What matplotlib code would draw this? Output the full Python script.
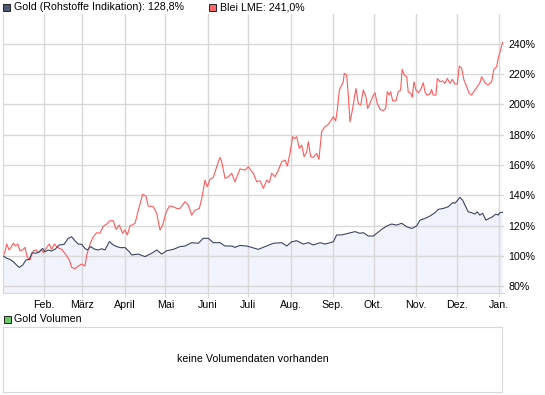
import matplotlib
matplotlib.use("Agg")
import matplotlib.pyplot as plt
from matplotlib.patches import Rectangle
import pandas as pd

plt.rcParams['font.family'] = ['Liberation Sans', 'DejaVu Sans']

# Tage seit 01.01.2009 und Wertentwicklung in %
gold_tage = [0.9, 3.4, 5.8, 8.2, 10.7, 12.6, 15.1, 17.6, 20.0, 22.0, 24.9, 27.3, 29.8, 31.5,
             33.9, 36.4, 38.9, 42.0, 45.5, 48.6, 51.1, 53.6, 56.0, 58.5, 60.9, 62.6, 65.1,
             67.7, 70.7, 73.2, 75.6, 78.8, 81.7, 84.2, 87.1, 90.3, 93.5, 95.2, 100.1, 105.0,
             109.9, 113.6, 117.3, 120.9, 125.8, 130.7, 134.4, 139.3, 144.2, 147.8, 151.5,
             155.2, 160.1, 163.8, 168.7, 171.1, 174.8, 179.7, 183.4, 188.2, 193.2, 199.3,
             205.5, 209.1, 212.8, 216.5, 221.3, 225.0, 228.7, 233.6, 237.3, 241.0, 243.4,
             245.8, 249.5, 254.4, 259.3, 263.0, 265.4, 269.1, 272.8, 275.3, 278.9, 282.6,
             286.3, 289.9, 293.6, 297.3, 301.0, 304.6, 307.1, 310.7, 314.4, 318.1, 320.5,
             324.2, 327.8, 331.1, 332.7, 334.4, 336.4, 338.4, 340.1, 342.5, 345.0, 347.4,
             349.1, 351.1, 353.1, 355.5, 357.9, 360.4, 362.8, 364.5, 365.7, 367.7]
gold_werte = [100.0, 98.5, 97.8, 96.3, 94.0, 92.5, 94.0, 97.4, 97.8, 102.2, 101.8, 102.8, 105.0,
              102.8, 104.0, 103.3, 104.4, 107.3, 107.7, 111.7, 112.7, 110.0, 107.9, 107.7,
              105.0, 104.0, 106.2, 104.6, 104.0, 104.8, 104.0, 109.5, 107.3, 106.2, 105.5,
              105.6, 102.8, 100.7, 101.3, 99.6, 101.8, 104.0, 101.3, 103.5, 104.4, 106.2,
              106.6, 108.8, 108.4, 111.7, 111.7, 108.8, 108.8, 106.6, 106.6, 105.7, 107.0,
              106.6, 105.7, 104.4, 106.2, 108.4, 108.8, 106.6, 109.4, 110.1, 107.9, 108.8,
              107.3, 108.8, 107.9, 108.8, 109.4, 113.9, 113.9, 115.0, 116.1, 115.0, 115.4,
              113.2, 113.2, 115.0, 117.6, 119.8, 121.1, 120.4, 121.6, 119.3, 118.2, 119.8,
              123.7, 124.8, 126.4, 128.6, 130.8, 131.4, 132.5, 135.2, 134.8, 136.5, 138.7,
              136.9, 133.6, 129.2, 128.6, 127.7, 129.2, 127.0, 128.2, 123.7, 124.8, 125.9,
              127.7, 127.0, 128.6, 128.8]

blei_tage = [0.9, 2.1, 3.4, 5.1, 6.5, 8.2, 10.0, 11.5, 13.2, 15.1, 16.8, 18.5, 20.5, 22.9,
             24.9, 26.6, 29.1, 30.3, 32.8, 34.7, 36.4, 38.4, 40.6, 43.8, 47.0, 49.4, 51.1,
             53.6, 56.0, 58.5, 60.9, 62.2, 64.6, 67.0, 69.5, 71.9, 74.4, 76.9, 79.3, 81.7,
             83.7, 86.1, 88.6, 90.3, 92.0, 94.0, 97.7, 100.1, 103.3, 105.7, 107.4, 111.1,
             113.6, 116.0, 118.0, 120.4, 122.9, 125.8, 128.3, 130.7, 134.4, 136.8, 139.3,
             141.7, 144.9, 146.7, 149.1, 150.8, 152.8, 155.2, 157.7, 160.1, 161.4, 163.8,
             166.2, 168.7, 171.1, 174.8, 178.5, 180.9, 184.6, 187.1, 189.5, 192.0, 194.5,
             196.4, 198.1, 200.5, 203.0, 205.5, 207.9, 209.6, 211.5, 213.5, 215.2, 216.5,
             218.4, 220.2, 221.9, 223.9, 225.0, 226.8, 228.7, 231.2, 232.8, 234.8, 237.2,
             239.2, 241.4, 243.4, 245.1, 246.3, 247.8, 249.6, 250.7, 251.4, 253.2, 254.4,
             255.6, 256.9, 258.0, 260.0, 261.7, 263.5, 265.4, 267.4, 268.6, 270.3, 272.8,
             274.0, 275.7, 277.7, 280.1, 281.9, 283.0, 284.5, 285.5, 287.0, 289.4, 291.1,
             292.8, 294.0, 295.5, 297.3, 298.4, 300.2, 301.4, 302.6, 304.1, 305.8, 307.6,
             309.5, 310.7, 312.0, 314.4, 315.6, 316.8, 318.8, 319.8, 321.7, 323.7, 325.4,
             327.1, 329.1, 330.8, 332.8, 334.5, 335.9, 337.7, 339.4, 341.4, 343.3, 345.0,
             347.4, 349.1, 351.1, 352.3, 354.8, 357.2, 359.7, 361.4, 363.4, 364.5, 366.3,
             367.7]
blei_werte = [100.0, 102.8, 107.9, 104.0, 105.7, 108.4, 106.6, 107.9, 103.5, 104.0, 105.7,
              99.1, 97.4, 103.5, 104.0, 102.2, 104.0, 102.2, 105.7, 107.9, 104.4, 107.9,
              105.7, 104.4, 100.7, 97.4, 92.5, 91.6, 93.4, 94.7, 93.4, 100.7, 107.9, 112.7,
              115.4, 115.0, 119.8, 121.1, 123.3, 123.3, 117.6, 120.4, 115.0, 117.2, 113.9,
              119.8, 121.6, 130.3, 140.7, 139.6, 133.0, 132.5, 128.2, 117.2, 120.4, 128.6,
              133.0, 132.5, 131.4, 131.4, 135.8, 133.6, 127.0, 130.3, 131.4, 138.0, 150.1,
              145.7, 150.6, 151.9, 158.9, 165.1, 162.2, 151.2, 152.3, 154.6, 149.0, 157.5,
              156.7, 158.9, 154.6, 149.0, 149.7, 144.7, 150.1, 148.4, 154.6, 152.3, 156.7,
              162.2, 163.3, 159.4, 167.7, 178.7, 177.6, 178.7, 171.0, 173.2, 165.5, 168.8,
              175.4, 165.5, 165.1, 167.7, 163.8, 182.0, 185.3, 186.4, 189.2, 191.9, 189.2,
              196.3, 209.5, 212.8, 215.0, 220.5, 219.4, 206.2, 188.6, 194.1, 199.6, 210.6,
              200.7, 199.6, 209.5, 205.1, 197.4, 200.7, 206.2, 207.7, 200.7, 196.8, 195.9,
              197.4, 208.4, 206.2, 208.4, 202.4, 202.4, 208.4, 209.5, 223.2, 219.4, 218.3,
              208.4, 207.3, 204.7, 215.0, 209.5, 207.7, 209.9, 214.3, 208.4, 206.2, 206.9,
              209.9, 206.2, 206.2, 217.2, 215.0, 215.6, 213.9, 217.2, 213.9, 216.6, 213.5,
              213.5, 225.3, 223.8, 216.1, 211.7, 207.3, 206.2, 209.5, 211.7, 214.3, 218.3,
              214.3, 212.8, 215.0, 223.2, 224.9, 230.4, 235.9, 241.0]

monate = ['Feb.', 'März', 'April', 'Mai', 'Juni', 'Juli', 'Aug.', 'Sep.', 'Okt.', 'Nov.',
          'Dez.', 'Jan.']
y_ticks = [80, 100, 120, 140, 160, 180, 200, 220, 240]

W, H = 545, 395
fs = 7.7
grau = '#d8d8d8'

fig = plt.figure(figsize=(W / 100, H / 100), dpi=100)

def fx(px):
    return px / W

def fy(py):
    return 1 - py / H

# Hauptchart
ax = fig.add_axes([fx(3), fy(293), fx(504) - fx(3), fy(14) - fy(293)])
y_min, y_max = 75.6, 259.7
ax.set_xlim(0.66, 368.8)
ax.set_ylim(y_min, y_max)

ax.fill_between(gold_tage, gold_werte, y_min, color='#f0f3fc', lw=0, zorder=0.3)
ax.plot(blei_tage, blei_werte, color='#ff5a5a', lw=0.8, zorder=2)
ax.plot(gold_tage, gold_werte, color='#3b4560', lw=0.8, zorder=3)

basis = pd.Timestamp('2009-01-01')
monatsanfang = pd.date_range('2009-02-01', periods=12, freq='MS')
ax.set_xticks([(d - basis).days for d in monatsanfang])
ax.set_xticklabels(monate)
ax.set_yticks(y_ticks)
ax.set_yticklabels([f'{v}%' for v in y_ticks])
ax.yaxis.tick_right()

ax.set_axisbelow(True)
ax.grid(True, color=grau, lw=1)
ax.tick_params(axis='x', length=3, color=grau, pad=2, labelsize=fs)
ax.tick_params(axis='y', length=0, pad=3, labelsize=fs)
for s in ['top', 'right']:
    ax.spines[s].set_visible(False)
for s in ['left', 'bottom']:
    ax.spines[s].set_color(grau)

# Legende oben
fig.add_artist(Rectangle((fx(3), fy(10.5)), 7 / W, 7 / H, transform=fig.transFigure,
                         facecolor='#4f5a78', edgecolor='#222222', lw=0.7))
fig.text(fx(14), fy(7), 'Gold (Rohstoffe Indikation): 128,8%', fontsize=fs, va='center')
fig.add_artist(Rectangle((fx(209), fy(10.5)), 7 / W, 7 / H, transform=fig.transFigure,
                         facecolor='#ff6666', edgecolor='#222222', lw=0.7))
fig.text(fx(220), fy(7), 'Blei LME: 241,0%', fontsize=fs, va='center')

# Volumen
fig.add_artist(Rectangle((fx(4), fy(322.5)), 7 / W, 7 / H, transform=fig.transFigure,
                         facecolor='#66cc66', edgecolor='#222222', lw=0.7))
fig.text(fx(14), fy(319), 'Gold Volumen', fontsize=fs, va='center')

ax_vol = fig.add_axes([fx(3), fy(392), fx(502) - fx(3), fy(327) - fy(392)])
ax_vol.set_xticks([])
ax_vol.set_yticks([])
for s in ax_vol.spines.values():
    s.set_color(grau)
ax_vol.text(0.5, 0.5, 'keine Volumendaten vorhanden', fontsize=fs, ha='center',
            va='center', transform=ax_vol.transAxes)

fig.savefig('out.png', dpi=100)
